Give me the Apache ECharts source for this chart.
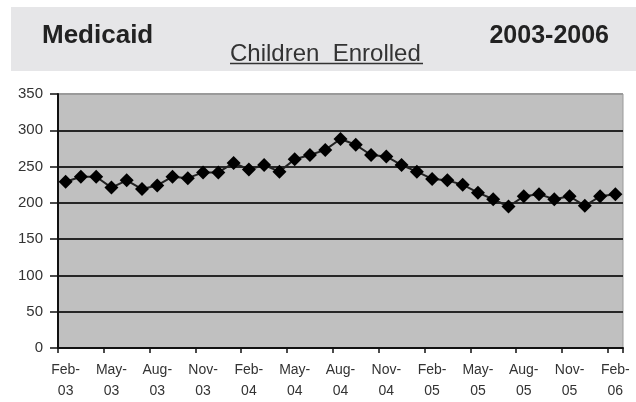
<!DOCTYPE html>
<html>
<head>
<meta charset="utf-8">
<script src="https://cdn.jsdelivr.net/npm/echarts@6/dist/echarts.min.js"></script>
<style>
  html, body { margin: 0; padding: 0; background: #ffffff; }
  #chart { width: 636px; height: 402px; }
</style>
</head>
<body>
<div id="chart"></div>
<script>
// Monthly enrollment, Feb 2003 through Feb 2006 (thousands of children)
const months = [
  'Feb-03','Mar-03','Apr-03','May-03','Jun-03','Jul-03','Aug-03','Sep-03','Oct-03','Nov-03','Dec-03',
  'Jan-04','Feb-04','Mar-04','Apr-04','May-04','Jun-04','Jul-04','Aug-04','Sep-04','Oct-04','Nov-04','Dec-04',
  'Jan-05','Feb-05','Mar-05','Apr-05','May-05','Jun-05','Jul-05','Aug-05','Sep-05','Oct-05','Nov-05','Dec-05',
  'Jan-06','Feb-06'
];
const enrolled = [
  229, 236, 236, 221, 231, 219, 224, 236, 234, 242, 242,
  255, 246, 252, 243, 260, 266, 273, 288, 280, 266, 264, 252,
  243, 233, 231, 225, 214, 205, 195, 209, 212, 205, 209, 196,
  209, 212
];
const yTicks = [0, 50, 100, 150, 200, 250, 300, 350];

const titleLeft = 'Medicaid';
const titleCenter = 'Children  Enrolled';
const titleRight = '2003-2006';

const chart = echarts.init(document.getElementById('chart'), null, { renderer: 'canvas' });
const font = '"Liberation Sans", Arial, sans-serif';

// one colour per horizontal line; the top one is the frame of the plot
const splitColors = yTicks.map((v, i) => i === yTicks.length - 1 ? '#9a9a9a' : '#262626');

chart.setOption({
  animation: false,
  backgroundColor: '#ffffff',
  textStyle: { fontFamily: font },
  grid: {
    left: 58, right: 13, top: 94, bottom: 50,
    show: true,
    backgroundColor: '#c0c0c0',
    borderColor: '#9a9a9a',
    borderWidth: 1
  },
  graphic: [
    { type: 'rect', left: 11, top: 7, shape: { width: 625, height: 64 },
      style: { fill: '#e6e6e8' }, z: 0 },
    { type: 'text', x: 42, y: 36,
      style: { text: titleLeft, font: 'bold 26px ' + font, fill: '#222', verticalAlign: 'middle', align: 'left' } },
    { type: 'text', x: 230, y: 54,
      style: { text: titleCenter, font: '24px ' + font, fill: '#333', verticalAlign: 'middle', align: 'left' } },
    { type: 'line', shape: { x1: 230, y1: 63.5, x2: 423, y2: 63.5 },
      style: { stroke: '#333', lineWidth: 1.5 } },
    { type: 'text', x: 609, y: 36,
      style: { text: titleRight, font: 'bold 25px ' + font, fill: '#222', verticalAlign: 'middle', align: 'right' } }
  ],
  xAxis: {
    type: 'category',
    data: months,
    boundaryGap: true,
    axisLine: { show: true, lineStyle: { color: '#111', width: 2 } },
    axisTick: { show: true, interval: 2, length: 5, lineStyle: { color: '#111', width: 1.5 } },
    axisLabel: {
      interval: 2,
      color: '#333',
      fontSize: 14,
      lineHeight: 21,
      margin: 12,
      formatter: (v) => v.replace('-', '-\n')
    },
    splitLine: { show: false }
  },
  yAxis: {
    type: 'value',
    min: yTicks[0],
    max: yTicks[yTicks.length - 1],
    interval: 50,
    axisLine: { show: true, lineStyle: { color: '#111', width: 2 } },
    axisTick: { show: true, length: 8, lineStyle: { color: '#111', width: 1.5 } },
    axisLabel: { color: '#333', fontSize: 15, margin: 15 },
    splitLine: { show: true, lineStyle: { color: splitColors, width: 2 } }
  },
  series: [{
    type: 'line',
    data: enrolled,
    symbol: 'diamond',
    symbolSize: [14, 14],
    showAllSymbol: true,
    lineStyle: { color: '#222', width: 2 },
    itemStyle: { color: '#000' },
    z: 3
  }]
});
</script>
</body>
</html>
